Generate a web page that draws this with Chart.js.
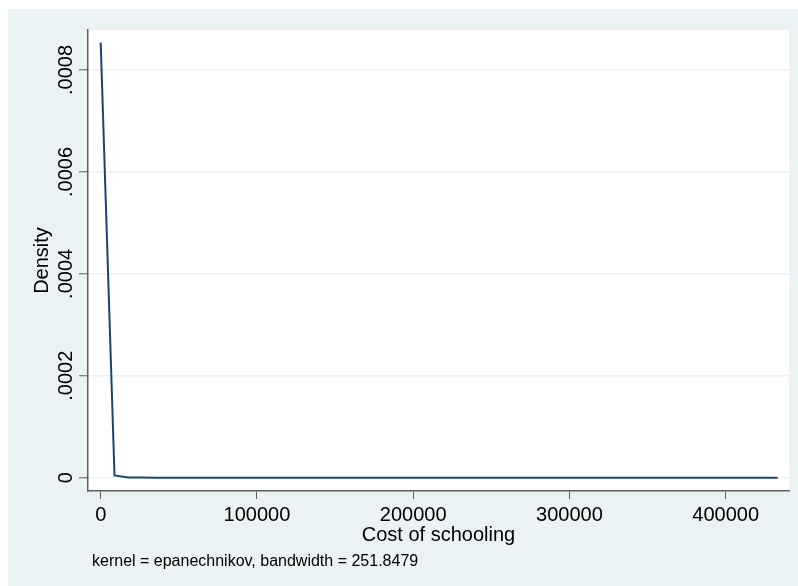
<!DOCTYPE html>
<html>
<head>
<meta charset="utf-8">
<script src="https://cdn.jsdelivr.net/npm/chart.js@4.4.1/dist/chart.umd.min.js"></script>
<style>
  html, body { margin: 0; padding: 0; background: #fff; }
  #wrap { width: 798px; height: 586px; }
</style>
</head>
<body>
<div id="wrap"><canvas id="kd" width="798" height="586"></canvas></div>
<script>
// kernel density of cost of schooling (50 evaluation points)
const costPoints = [0, 8842, 17684, 26526, 35368, 44210, 53052, 61894, 70736, 79578,
  88420, 97262, 106104, 114946, 123788, 132630, 141472, 150314, 159156, 167998,
  176840, 185682, 194524, 203366, 212208, 221050, 229892, 238734, 247576, 256418,
  265260, 274102, 282944, 291786, 300628, 309470, 318312, 327154, 335996, 344838,
  353680, 362522, 371364, 380206, 389048, 397890, 406732, 415574, 424416, 433258];
const densityValues = [0.000854, 0.0000045, 0.0000006, 0.0000002, 0.0000001, 0, 0, 0, 0, 0,
  0, 0, 0, 0, 0, 0, 0, 0, 0, 0,
  0, 0, 0, 0, 0, 0, 0, 0, 0, 0,
  0, 0, 0, 0, 0, 0, 0, 0, 0, 0,
  0, 0, 0, 0, 0, 0, 0, 0, 0, 0];
const xTicks = [0, 100000, 200000, 300000, 400000];
const yTicks = [0, 0.0002, 0.0004, 0.0006, 0.0008];
const yTickLabels = ['0', '.0002', '.0004', '.0006', '.0008'];
const xTitle = 'Cost of schooling';
const yTitle = 'Density';
const noteText = 'kernel = epanechnikov, bandwidth = 251.8479';

const FONT = '"Liberation Sans", Arial, Helvetica, sans-serif';
const PANEL = '#eaf2f3';
const AXIS = '#5f5f5f';

const stataLook = {
  id: 'stataLook',
  beforeDraw(chart){
    const ctx = chart.ctx, a = chart.chartArea;
    ctx.save();
    ctx.fillStyle = '#fff';
    ctx.fillRect(0, 0, chart.width, chart.height);
    ctx.fillStyle = PANEL;
    ctx.fillRect(8, 9, chart.width - 8, chart.height - 9);
    ctx.fillStyle = '#fff';
    ctx.fillRect(a.left, a.top, a.right - a.left, a.bottom - a.top);
    ctx.restore();
  },
  afterDraw(chart){
    const ctx = chart.ctx, a = chart.chartArea, ys = chart.scales.y;
    ctx.save();
    ctx.fillStyle = '#000';
    ctx.font = '20px ' + FONT;
    ctx.textAlign = 'center';
    ctx.textBaseline = 'alphabetic';
    // rotated y tick labels
    yTicks.forEach((v, i) => {
      ctx.save();
      ctx.translate(72, ys.getPixelForValue(v));
      ctx.rotate(-Math.PI / 2);
      ctx.fillText(yTickLabels[i], 0, 0);
      ctx.restore();
    });
    // y title
    ctx.save();
    ctx.translate(48, (a.top + a.bottom) / 2);
    ctx.rotate(-Math.PI / 2);
    ctx.fillText(yTitle, 0, 0);
    ctx.restore();
    // x title
    ctx.fillText(xTitle, (a.left + a.right) / 2, 541);
    // note
    ctx.font = '16px ' + FONT;
    ctx.textAlign = 'left';
    ctx.fillText(noteText, 92, 566);
    ctx.restore();
  }
};

new Chart(document.getElementById('kd'), {
  type: 'line',
  data: {
    datasets: [{
      data: costPoints.map((x, i) => ({ x: x, y: densityValues[i] })),
      borderColor: '#1a476f',
      borderWidth: 2,
      pointRadius: 0,
      tension: 0,
      fill: false
    }]
  },
  options: {
    responsive: false,
    animation: false,
    layout: { padding: { top: 30, right: 9, left: 0, bottom: 0 } },
    plugins: { legend: { display: false }, tooltip: { enabled: false } },
    scales: {
      x: {
        type: 'linear',
        min: -8128,
        max: 440512,
        afterBuildTicks: s => { s.ticks = xTicks.map(v => ({ value: v })); },
        afterFit: s => { s.height = 95; },
        border: { color: AXIS, width: 1.5 },
        grid: { drawOnChartArea: false, drawTicks: true, tickLength: 8, tickColor: AXIS, tickWidth: 1 },
        ticks: {
          color: '#000',
          font: { family: FONT, size: 20 },
          padding: 4,
          maxRotation: 0,
          callback: v => String(v)
        }
      },
      y: {
        type: 'linear',
        min: -0.0000261,
        max: 0.0008785,
        afterBuildTicks: s => { s.ticks = yTicks.map(v => ({ value: v })); },
        afterFit: s => { s.width = 88; },
        border: { color: AXIS, width: 1.5 },
        grid: { color: PANEL, lineWidth: 1.5, drawTicks: true, tickLength: 9, tickColor: AXIS, tickWidth: 1 },
        ticks: { display: false }
      }
    }
  },
  plugins: [stataLook]
});
</script>
</body>
</html>
